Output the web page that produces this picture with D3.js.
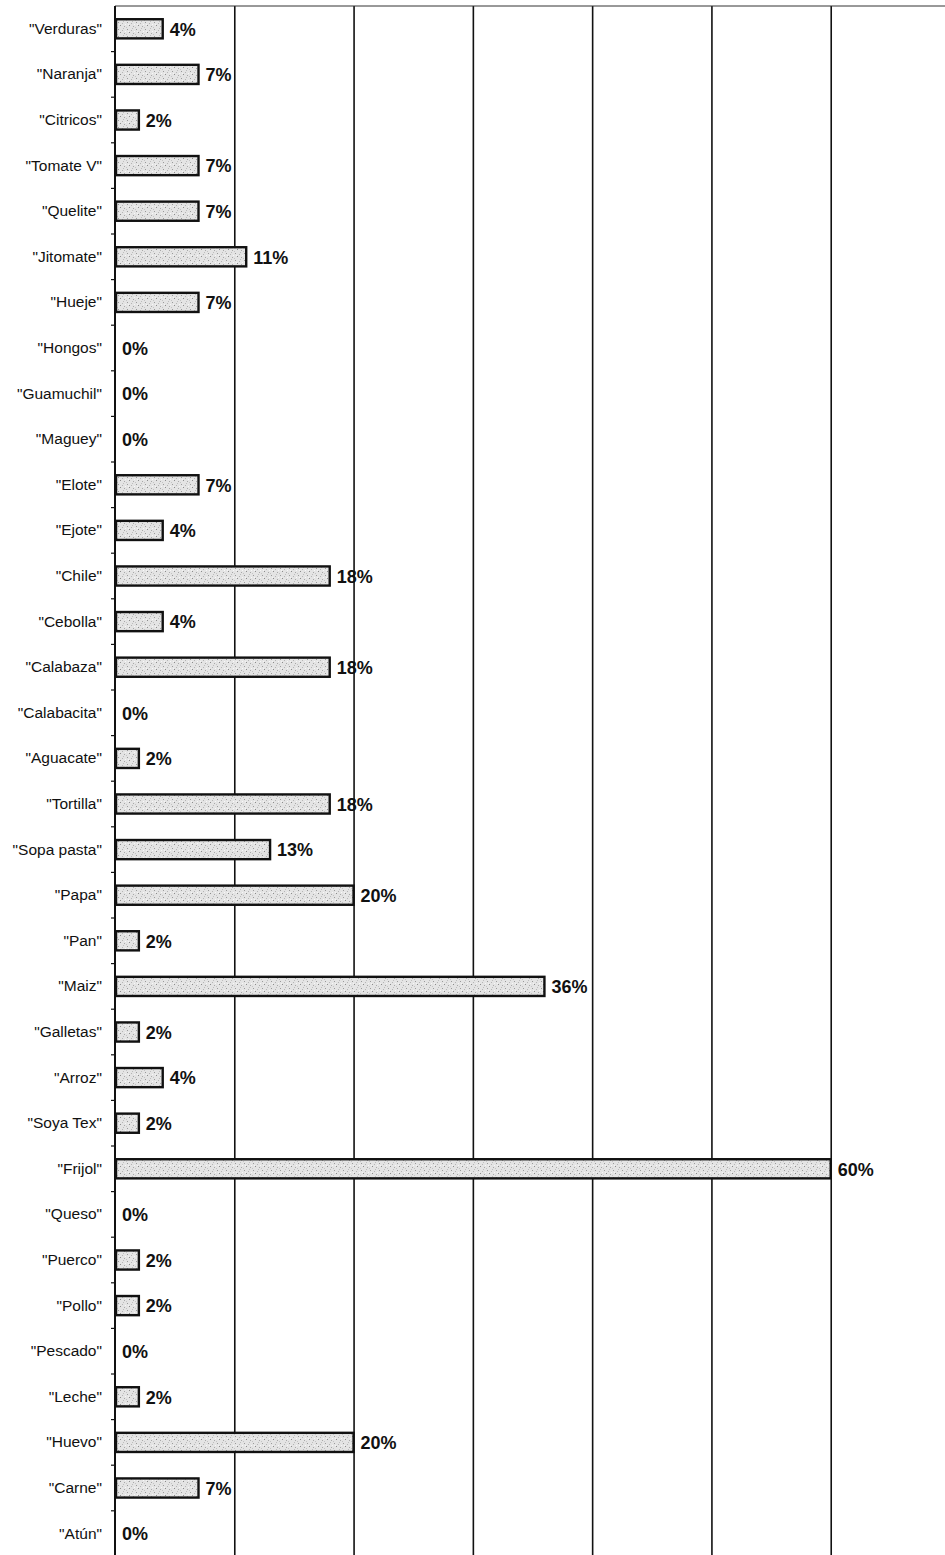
<!DOCTYPE html>
<html>
<head>
<meta charset="utf-8">
<script src="https://cdn.jsdelivr.net/npm/d3@7/dist/d3.min.js"></script>
<style>
  html, body { margin: 0; padding: 0; background: #fff; }
  svg { display: block; }
  .cat text { font-family: "Liberation Sans", Arial, sans-serif; font-size: 15.5px; fill: #111; }
  .val { font-family: "Liberation Sans", Arial, sans-serif; font-size: 18px; font-weight: bold; fill: #111; }
</style>
</head>
<body>
<svg id="chart" width="945" height="1555"></svg>
<script>
// Food items (top to bottom) and the share of households reporting each one (%)
const categories = [
  "Verduras", "Naranja", "Citricos", "Tomate V", "Quelite", "Jitomate", "Hueje",
  "Hongos", "Guamuchil", "Maguey", "Elote", "Ejote", "Chile", "Cebolla",
  "Calabaza", "Calabacita", "Aguacate", "Tortilla", "Sopa pasta", "Papa", "Pan",
  "Maiz", "Galletas", "Arroz", "Soya Tex", "Frijol", "Queso", "Puerco", "Pollo",
  "Pescado", "Leche", "Huevo", "Carne", "Atún"
];
const values = [
  4, 7, 2, 7, 7, 11, 7,
  0, 0, 0, 7, 4, 18, 4,
  18, 0, 2, 18, 13, 20, 2,
  36, 2, 4, 2, 60, 0, 2, 2,
  0, 2, 20, 7, 0
];
const gridTicks = [10, 20, 30, 40, 50, 60, 70];
const xMax = 70;

const svg = d3.select("#chart");
const W = 945;
const mLeft = 115, mTop = 6, step = 45.6;
const plotBottom = mTop + step * categories.length;

const x = d3.scaleLinear().domain([0, xMax]).range([mLeft, 950]);
const y = d3.scaleBand().domain(categories).range([mTop, plotBottom]).paddingInner(0.58).paddingOuter(0.29);

// Speckled grey fill for the bars
const defs = svg.append("defs");
const pat = defs.append("pattern")
  .attr("id", "speckle").attr("patternUnits", "userSpaceOnUse")
  .attr("width", 9).attr("height", 7);
pat.append("rect").attr("width", 9).attr("height", 7).attr("fill", "#e4e4e4");
[[1,1,"#9a9a9a"],[5,2,"#b5b5b5"],[3,4,"#8c8c8c"],[7,5,"#a8a8a8"],[0,6,"#c4c4c4"],[6,0,"#bdbdbd"],[2,3,"#f4f4f4"],[8,3,"#f7f7f7"]]
  .forEach(([px, py, c]) => pat.append("rect").attr("x", px).attr("y", py).attr("width", 1).attr("height", 1).attr("fill", c));

// Vertical gridlines every 10%
const grid = svg.append("g")
  .attr("transform", `translate(0,${mTop})`)
  .call(d3.axisBottom(x).tickValues(gridTicks).tickSize(plotBottom - mTop).tickFormat(""));
grid.select(".domain").remove();
grid.selectAll(".tick line").attr("stroke", "#111").attr("stroke-width", 1.6);

// Top frame line
svg.append("line")
  .attr("x1", mLeft).attr("x2", W).attr("y1", mTop).attr("y2", mTop)
  .attr("stroke", "#333").attr("stroke-width", 1);

// Category axis: labels in quotes, small ticks between categories
const yAxis = svg.append("g").attr("class", "cat")
  .attr("transform", `translate(${mLeft},0)`)
  .call(d3.axisLeft(y).tickSize(0).tickPadding(13).tickFormat(d => `"${d}"`));
yAxis.select(".domain").remove();

svg.append("g").selectAll("line")
  .data(d3.range(1, categories.length))
  .join("line")
  .attr("x1", mLeft - 4).attr("x2", mLeft)
  .attr("y1", i => mTop + i * step).attr("y2", i => mTop + i * step)
  .attr("stroke", "#111").attr("stroke-width", 1.2);

svg.append("line")
  .attr("x1", mLeft).attr("x2", mLeft).attr("y1", mTop).attr("y2", plotBottom)
  .attr("stroke", "#111").attr("stroke-width", 2);

// Bars
const data = categories.map((c, i) => ({ cat: c, v: values[i] }));
svg.append("g").selectAll("rect")
  .data(data.filter(d => d.v > 0))
  .join("rect")
  .attr("x", x(0) + 1)
  .attr("y", d => y(d.cat))
  .attr("width", d => x(d.v) - x(0) - 1)
  .attr("height", y.bandwidth())
  .attr("fill", "url(#speckle)")
  .attr("stroke", "#111").attr("stroke-width", 2.4);

// Value labels
svg.append("g").selectAll("text")
  .data(data)
  .join("text")
  .attr("class", "val")
  .attr("x", d => x(d.v) + 7)
  .attr("y", d => y(d.cat) + y.bandwidth() / 2 + 2)
  .attr("dominant-baseline", "middle")
  .text(d => `${d.v}%`);
</script>
</body>
</html>
